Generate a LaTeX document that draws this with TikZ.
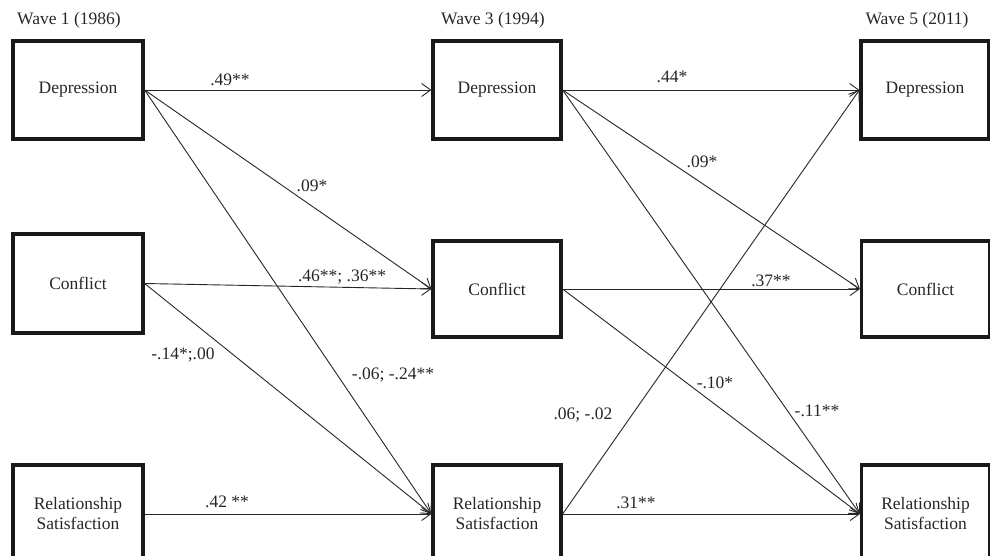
\documentclass[tikz,border=0pt]{standalone}
\usepackage{fontspec}
\setmainfont{Liberation Serif}
\usetikzlibrary{arrows.meta}
\begin{document}
\begin{tikzpicture}[x=1pt,y=-1pt,
  every node/.style={font=\fontsize{17.5}{20}\selectfont, text=black!85},
  varbox/.style={draw=black!90, line width=3.2pt, minimum width=128pt, minimum height=97pt, inner sep=0pt, align=center},
  path/.style={draw=black!85, line width=0.9pt, -{Straight Barb[length=9pt,width=13pt,line width=0.9pt]}},
  lbl/.style={inner sep=0pt}]
\useasboundingbox (0,0) rectangle (990,556);
\clip (0,0) rectangle (990,556);
% wave headings
\node[lbl] (w1) at (69,20) {Wave 1 (1986)};
\node[lbl] (w3) at (493,20) {Wave 3 (1994)};
\node[lbl] (w5) at (917,20) {Wave 5 (2011)};
% boxes
\node[varbox, minimum width=130pt, minimum height=98pt] (d1) at (78,90) {Depression};
\node[varbox, minimum height=98pt] (d3) at (497,90) {Depression};
\node[varbox, minimum height=98pt] (d5) at (925,90) {Depression};
\node[varbox, minimum width=130pt, minimum height=99pt] (c1) at (78,283.5) {Conflict};
\node[varbox, minimum height=96pt] (c3) at (497,289) {Conflict};
\node[varbox, minimum height=96pt] (c5) at (925.5,289) {Conflict};
\node[varbox, minimum width=130pt, minimum height=98pt] (r1) at (78,514) {Relationship\\Satisfaction};
\node[varbox, minimum height=98pt] (r3) at (497,514) {Relationship\\Satisfaction};
\node[varbox, minimum height=98pt] (r5) at (925.5,514) {Relationship\\Satisfaction};
% paths wave 1 -> wave 3
\draw[path] (d1.east) -- (d3.west);
\draw[path] (d1.east) -- (c3.west);
\draw[path] (d1.east) -- (r3.west);
\draw[path] (c1.east) -- (c3.west);
\draw[path] (c1.east) -- (r3.west);
\draw[path] (r1.east) -- (r3.west);
% paths wave 3 -> wave 5
\draw[path] (d3.east) -- (d5.west);
\draw[path] (d3.east) -- (c5.west);
\draw[path] (d3.east) -- (r5.west);
\draw[path] (c3.east) -- (c5.west);
\draw[path] (c3.east) -- (r5.west);
\draw[path] (r3.east) -- (d5.west);
\draw[path] (r3.east) -- (r5.west);
% coefficient labels
\node[lbl] (l1) at (230,80) {.49**};
\node[lbl] (l2) at (312,186) {.09*};
\node[lbl] (l3) at (342,277) {.46**; .36**};
\node[lbl] (l4) at (183,355) {-.14*;.00};
\node[lbl] (l5) at (393,375) {-.06; -.24**};
\node[lbl] (l6) at (227,502) {.42 **};
\node[lbl] (l7) at (672,77) {.44*};
\node[lbl] (l8) at (702,162) {.09*};
\node[lbl] (l9) at (771,281) {.37**};
\node[lbl] (l10) at (715,383) {-.10*};
\node[lbl] (l11) at (583,415) {.06; -.02};
\node[lbl] (l12) at (817,411) {-.11**};
\node[lbl] (l13) at (636,503) {.31**};
\end{tikzpicture}
\end{document}
